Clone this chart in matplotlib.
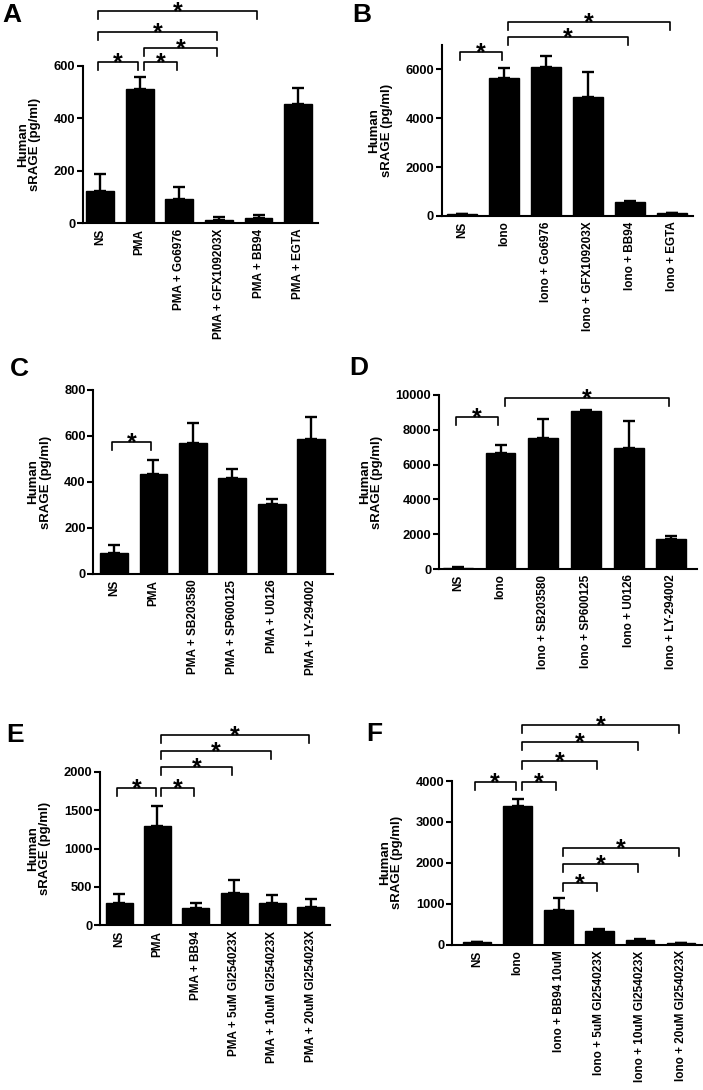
import numpy as np
import matplotlib.pyplot as plt

plt.rcParams['font.family'] = ['Liberation Sans', 'DejaVu Sans']
plt.rcParams['font.weight'] = 'bold'

W, H = 703, 1090

# ---- data ----
a_labels = ['NS', 'PMA', 'PMA + Go6976', 'PMA + GFX109203X', 'PMA + BB94', 'PMA + EGTA']
a_means = [124, 511, 93, 14, 22, 454]
a_err = [64, 47, 44, 10, 8, 60]
a_sig = [(0, 1, 613), (1, 2, 613), (1, 3, 666), (0, 3, 729), (0, 4, 809)]

b_labels = ['NS', 'Iono', 'Iono + Go6976', 'Iono + GFX109203X', 'Iono + BB94', 'Iono + EGTA']
b_means = [80, 5660, 6100, 4880, 586, 110]
b_err = [20, 380, 450, 1025, 28, 25]
b_sig = [(0, 1, 6700), (1, 4, 7315), (1, 5, 7950)]

c_labels = ['NS', 'PMA', 'PMA + SB203580', 'PMA + SP600125', 'PMA + U0126', 'PMA + LY-294002']
c_means = [93, 435, 571, 416, 304, 586]
c_err = [35, 61, 87, 39, 21, 98]
c_sig = [(0, 1, 574)]

d_labels = ['NS', 'Iono', 'Iono + SB203580', 'Iono + SP600125', 'Iono + U0126', 'Iono + LY-294002']
d_means = [80, 6650, 7550, 9080, 6960, 1700]
d_err = [20, 480, 1050, 60, 1550, 210]
d_sig = [(0, 1, 8757), (1, 5, 9810)]

e_labels = ['NS', 'PMA', 'PMA + BB94', 'PMA + 5uM GI254023X', 'PMA + 10uM GI254023X', 'PMA + 20uM GI254023X']
e_means = [290, 1290, 223, 424, 288, 240]
e_err = [115, 260, 65, 166, 109, 105]
e_sig = [(0, 1, 1790), (1, 2, 1790), (1, 3, 2062), (1, 4, 2280), (1, 5, 2490)]

f_labels = ['NS', 'Iono', 'Iono + BB94 10uM', 'Iono + 5uM GI254023X', 'Iono + 10uM GI254023X', 'Iono + 20uM GI254023X']
f_means = [60, 3390, 850, 340, 110, 40]
f_err = [15, 180, 290, 50, 20, 10]
f_sig = [(0, 1, 3984), (1, 2, 3984), (1, 3, 4497), (1, 4, 4961), (1, 5, 5369),
         (2, 3, 1515), (2, 4, 1963), (2, 5, 2354)]

fig = plt.figure(figsize=(W / 100, H / 100), dpi=100)


def panel(letter, lpos, box, xlim, ymax, yticks, labels, means, errs, sig):
    # box = pixel positions of y-axis, top of y-axis, right end of x-axis, zero line
    left, top, right, zero = box
    ax = fig.add_axes([left / W, 1 - zero / H, (right - left) / W, (zero - top) / H])
    x = np.arange(len(means))
    ax.bar(x, means, width=0.7, color='black', edgecolor='black')
    ax.errorbar(x, means, yerr=[np.zeros(len(errs)), errs], fmt='none', ecolor='black',
                elinewidth=1.7, capsize=4.6, capthick=1.7)
    ax.set_xlim(*xlim)
    ax.set_ylim(0, ymax)
    ax.set_yticks(yticks)
    ax.set_xticks(x)
    ax.set_xticklabels(labels, rotation=90)
    ax.tick_params(axis='x', length=0, pad=4, labelsize=8.5)
    ax.tick_params(axis='y', length=4, width=1.5, labelsize=9.3, pad=1.5)
    for s in ['top', 'right']:
        ax.spines[s].set_visible(False)
    for s in ['left', 'bottom']:
        ax.spines[s].set_linewidth(1.5)
    ax.set_ylabel('Human\nsRAGE (pg/ml)', fontsize=9.5, fontweight='bold', labelpad=9,
                  linespacing=1.05)

    arm = 8 * ymax / (zero - top)
    for i1, i2, y in sig:
        x1 = i1 + (0.1 if i1 > 0 else -0.05)
        x2 = i2 - 0.05
        ax.plot([x1, x1, x2, x2], [y - arm, y, y, y - arm], color='black', lw=1.2,
                clip_on=False)
        ax.annotate('*', ((x1 + x2) / 2, y), xytext=(0, -6), textcoords='offset points',
                    ha='center', va='baseline', fontsize=18, fontweight='bold',
                    annotation_clip=False)
    fig.text(lpos[0] / W, 1 - lpos[1] / H, letter, fontsize=19, fontweight='bold',
             va='top', ha='left')
    return ax


panel('A', (2, 3), (83, 65.7, 318, 223.3), (-0.43, 5.5), 600, [0, 200, 400, 600],
      a_labels, a_means, a_err, a_sig)
panel('B', (352, 3), (441.7, 45, 693, 216), (-0.48, 5.5), 7000, [0, 2000, 4000, 6000],
      b_labels, b_means, b_err, b_sig)
panel('C', (10, 357), (93.3, 390, 333, 574), (-0.52, 5.55), 800, [0, 200, 400, 600, 800],
      c_labels, c_means, c_err, c_sig)
panel('D', (349, 356), (439, 395, 697, 569), (-0.44, 5.6), 10000,
      [0, 2000, 4000, 6000, 8000, 10000], d_labels, d_means, d_err, d_sig)
panel('E', (6, 723), (100, 772, 330, 925), (-0.5, 5.5), 2000, [0, 500, 1000, 1500, 2000],
      e_labels, e_means, e_err, e_sig)
panel('F', (366, 722), (452, 781, 703, 944.7), (-0.61, 5.54), 4000,
      [0, 1000, 2000, 3000, 4000], f_labels, f_means, f_err, f_sig)

fig.savefig('out.png', dpi=100)
